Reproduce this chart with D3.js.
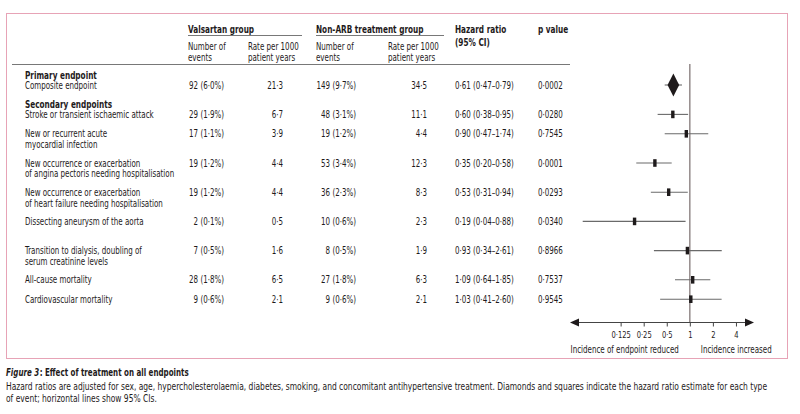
<!DOCTYPE html>
<html><head><meta charset="utf-8">
<script src="https://cdn.jsdelivr.net/npm/d3@7/dist/d3.min.js"></script>
<style>
body{margin:0;background:#fff}
text{font-family:'DejaVu Sans Condensed','DejaVu Sans',sans-serif;fill:#1e1a1b}
</style>
</head><body>
<svg id="c" width="800" height="414"></svg>
<script>
// ---------- data ----------
const sections = ["Primary endpoint", "Secondary endpoints"];
const sectionStart = [0, 1];
const endpoints = [
  ["Composite endpoint"],
  ["Stroke or transient ischaemic attack"],
  ["New or recurrent acute", "myocardial infection"],
  ["New occurrence or exacerbation", "of angina pectoris needing hospitalisation"],
  ["New occurrence or exacerbation", "of heart failure needing hospitalisation"],
  ["Dissecting aneurysm of the aorta", ""],
  ["Transition to dialysis, doubling of", "serum creatinine levels"],
  ["All-cause mortality"],
  ["Cardiovascular mortality"]
];
const valsartanEvents = [92, 29, 17, 19, 19, 2, 7, 28, 9];
const valsartanPct    = [6.0, 1.9, 1.1, 1.2, 1.2, 0.1, 0.5, 1.8, 0.6];
const valsartanRate   = [21.3, 6.7, 3.9, 4.4, 4.4, 0.5, 1.6, 6.5, 2.1];
const nonArbEvents    = [149, 48, 19, 53, 36, 10, 8, 27, 9];
const nonArbPct       = [9.7, 3.1, 1.2, 3.4, 2.3, 0.6, 0.5, 1.8, 0.6];
const nonArbRate      = [34.5, 11.1, 4.4, 12.3, 8.3, 2.3, 1.9, 6.3, 2.1];
const hazardRatio     = [0.61, 0.60, 0.90, 0.35, 0.53, 0.19, 0.93, 1.09, 1.03];
const ciLower         = [0.47, 0.38, 0.47, 0.20, 0.31, 0.04, 0.34, 0.64, 0.41];
const ciUpper         = [0.79, 0.95, 1.74, 0.58, 0.94, 0.88, 2.61, 1.85, 2.60];
const pValues         = ["0.0002", "0.0280", "0.7545", "0.0001", "0.0293", "0.0340", "0.8966", "0.7537", "0.9545"];
const axisTicks       = [0.125, 0.25, 0.5, 1, 2, 4];
const markerShape     = ["diamond", "square", "square", "square", "square", "square", "square", "square", "square"];

// ---------- helpers ----------
const dot = s => String(s).replace(/\./g, "\u00b7");
const f1 = v => dot(v.toFixed(1));
const f2 = v => dot(v.toFixed(2));

const svg = d3.select("#c");
const ink = "#1e1a1b";
const BODY = 10, HEAD = 10.3;

// narrow-typeface factor, calibrated on one label
const probe = svg.append("text").attr("font-size", BODY).text("Stroke or transient ischaemic attack");
const k = 129 / probe.node().getComputedTextLength();
probe.remove();

// frame
svg.append("rect").attr("x", 6.5).attr("y", 13.5).attr("width", 781).attr("height", 345)
  .attr("fill", "none").attr("stroke", "#e7a3b6").attr("stroke-width", 1);

// text drawn horizontally condensed (narrow journal typeface)
function t(g, x, y, s, opt = {}) {
  const el = g.append("text").attr("transform", `translate(${x},${y}) scale(${k},1)`).text(s)
    .attr("font-size", opt.size || BODY)
    .attr("text-anchor", opt.anchor || "start");
  if (opt.bold) el.attr("font-weight", "bold");
  if (opt.italic) el.attr("font-style", "italic");
  return el;
}

// ---------- header ----------
const hdr = svg.append("g");
t(hdr, 188, 32.5, "Valsartan group", {bold: true, size: HEAD});
t(hdr, 316, 32.5, "Non-ARB treatment group", {bold: true, size: HEAD});
t(hdr, 455, 32.5, "Hazard ratio", {bold: true, size: HEAD});
t(hdr, 455, 45.5, "(95% CI)", {bold: true, size: HEAD});
t(hdr, 538, 32.5, "p value", {bold: true, size: HEAD});
hdr.append("line").attr("x1", 188).attr("x2", 302).attr("y1", 35.5).attr("y2", 35.5).attr("stroke", "#555").attr("stroke-width", 0.8);
hdr.append("line").attr("x1", 316).attr("x2", 444).attr("y1", 35.5).attr("y2", 35.5).attr("stroke", "#555").attr("stroke-width", 0.8);
[[188, "Number of", "events"], [248, "Rate per 1000", "patient years"],
 [316, "Number of", "events"], [388, "Rate per 1000", "patient years"]].forEach(d => {
  t(hdr, d[0], 49.5, d[1]);
  t(hdr, d[0], 60.5, d[2]);
});
hdr.append("line").attr("x1", 12).attr("x2", 570).attr("y1", 64.5).attr("y2", 64.5).attr("stroke", "#555").attr("stroke-width", 0.8);

// ---------- row layout ----------
const lineH = 10.8, stepLine = 9.8, gap = 19.4;
let cursor = 75;
const rowY = [];
const secY = [];
endpoints.forEach((lab, i) => {
  const s = sectionStart.indexOf(i);
  if (s >= 0) {
    if (i > 0) cursor += gap;
    secY[s] = cursor;
    cursor += 10;
  } else {
    cursor += gap;
  }
  rowY[i] = cursor;
  cursor += (lab.length - 1) * stepLine;
});

const body = svg.append("g");
sections.forEach((s, j) => t(body, 25, secY[j] + 3.5, s, {bold: true, size: HEAD}));
endpoints.forEach((lab, i) => {
  const y = rowY[i] + 3.5;
  lab.forEach((l, j) => { if (l) t(body, 25, y + j * lineH, l); });
  t(body, 224, y, `${valsartanEvents[i]} (${f1(valsartanPct[i])}%)`, {anchor: "end"});
  t(body, 283, y, f1(valsartanRate[i]), {anchor: "end"});
  t(body, 356, y, `${nonArbEvents[i]} (${f1(nonArbPct[i])}%)`, {anchor: "end"});
  t(body, 427, y, f1(nonArbRate[i]), {anchor: "end"});
  t(body, 455, y, `${f2(hazardRatio[i])} (${f2(ciLower[i])}\u2013${f2(ciUpper[i])})`);
  t(body, 538, y, dot(pValues[i]));
});

// ---------- forest plot ----------
const x = d3.scaleLog().domain([0.0273, 6.88]).range([570, 754]);
const axisY = 322.5;
const fp = svg.append("g");

fp.append("line").attr("x1", x(1)).attr("x2", x(1)).attr("y1", 64).attr("y2", axisY)
  .attr("stroke", "#8c8282").attr("stroke-width", 1.4);

fp.selectAll("line.ci").data(hazardRatio).join("line").attr("class", "ci")
  .attr("x1", (d, i) => x(ciLower[i])).attr("x2", (d, i) => x(ciUpper[i]))
  .attr("y1", (d, i) => rowY[i]).attr("y2", (d, i) => rowY[i])
  .attr("stroke", "#6a6a6a").attr("stroke-width", 1.1);

hazardRatio.forEach((hr, i) => {
  const cx = x(hr), cy = rowY[i];
  if (markerShape[i] === "diamond") {
    fp.append("path").attr("d", `M${cx},${cy - 11.5}L${cx + 5.8},${cy}L${cx},${cy + 11.5}L${cx - 5.8},${cy}Z`).attr("fill", ink);
  } else {
    fp.append("rect").attr("x", cx - 1.7).attr("y", cy - 3.8).attr("width", 3.4).attr("height", 7.6).attr("fill", ink);
  }
});

const ax = fp.append("g").attr("transform", `translate(0,${axisY})`)
  .call(d3.axisBottom(x).tickValues(axisTicks).tickSize(4).tickSizeOuter(0).tickPadding(5)
    .tickFormat(d => dot(d)));
ax.select(".domain").remove();
ax.attr("font-family", null).attr("font-size", null);
ax.selectAll(".tick line").attr("stroke", "#444");
ax.selectAll(".tick text").attr("font-size", 9.5).attr("fill", ink)
  .attr("transform", `scale(${k},1)`);
const [r0, r1] = x.range();
fp.append("line").attr("x1", r0 + 4).attr("x2", r1 - 4).attr("y1", axisY).attr("y2", axisY)
  .attr("stroke", "#444").attr("stroke-width", 1.2);
fp.append("path").attr("d", `M${r0},${axisY}L${r0 + 9},${axisY - 4}L${r0 + 9},${axisY + 4}Z`).attr("fill", ink);
fp.append("path").attr("d", `M${r1},${axisY}L${r1 - 9},${axisY - 4}L${r1 - 9},${axisY + 4}Z`).attr("fill", ink);

t(fp, x(1) - 11, 352.5, "Incidence of endpoint reduced", {anchor: "end"});
t(fp, x(1) + 11, 352.5, "Incidence increased");

// ---------- caption ----------
const cap = svg.append("g");
const figLab = t(cap, 6, 375.5, "Figure 3", {bold: true, italic: true, size: 10});
const figW = figLab.node().getComputedTextLength() * k;
t(cap, 6 + figW + 0.5, 375.5, ": Effect of treatment on all endpoints", {bold: true, size: 10});
t(cap, 6, 389.5, "Hazard ratios are adjusted for sex, age, hypercholesterolaemia, diabetes, smoking, and concomitant antihypertensive treatment. Diamonds and squares indicate the hazard ratio estimate for each type", {size: 10.6});
t(cap, 6, 401.5, "of event; horizontal lines show 95% CIs.", {size: 10.6});
</script>
</body></html>
